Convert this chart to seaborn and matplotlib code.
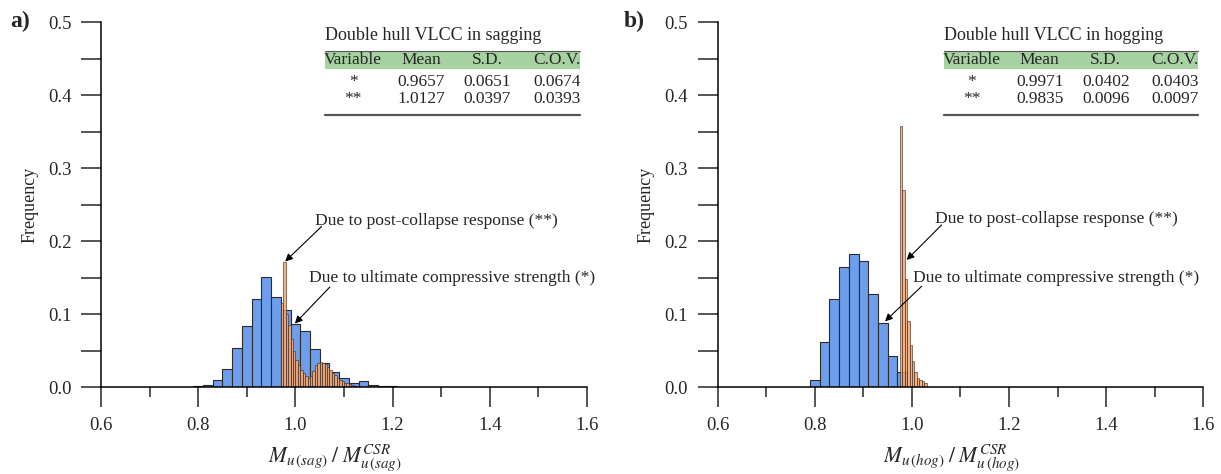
import numpy as np
import pandas as pd
import matplotlib
matplotlib.use('Agg')
import matplotlib.pyplot as plt
import seaborn as sns
from matplotlib.patches import Rectangle
from matplotlib.ticker import MultipleLocator

# ---- data (relative frequency per bin) ----
# sagging
sag_blue_start = 0.79
sag_blue_width = 0.02
sag_blue_freq = [0.001, 0.003, 0.010, 0.025, 0.053, 0.083, 0.121, 0.151, 0.124, 0.105,
                 0.086, 0.077, 0.052, 0.033, 0.020, 0.013, 0.006, 0.008, 0.003, 0.001, 0.001]
sag_orange_start = 0.970
sag_orange_width = 0.005
sag_orange_freq = [0.115, 0.171, 0.100, 0.085, 0.066, 0.050, 0.037, 0.030, 0.024, 0.019,
                   0.015, 0.013, 0.015, 0.022, 0.030, 0.033, 0.034, 0.033, 0.031, 0.027,
                   0.023, 0.019, 0.016, 0.013, 0.010, 0.008, 0.006, 0.005, 0.004, 0.003,
                   0.002, 0.001]
# hogging
hog_blue_start = 0.79
hog_blue_width = 0.02
hog_blue_freq = [0.009, 0.062, 0.121, 0.164, 0.182, 0.172, 0.128, 0.088, 0.043, 0.020]
hog_orange_start = 0.975
hog_orange_width = 0.005
hog_orange_freq = [0.357, 0.270, 0.148, 0.090, 0.057, 0.035, 0.021, 0.012, 0.010, 0.008, 0.005]

table_cols = ["Variable", "Mean", "S.D.", "C.O.V."]
sag_rows = [["*", "0.9657", "0.0651", "0.0674"], ["**", "1.0127", "0.0397", "0.0393"]]
hog_rows = [["*", "0.9971", "0.0402", "0.0403"], ["**", "0.9835", "0.0096", "0.0097"]]

sns.set_theme(style='ticks')
plt.rcParams['font.family'] = ['Liberation Serif', 'DejaVu Serif']
plt.rcParams['mathtext.fontset'] = 'stix'

BLUE = '#6D9EEB'
ORANGE = '#F3A46C'


def binned(start, width, freq):
    n = len(freq)
    centers = start + width * (np.arange(n) + 0.5)
    return pd.DataFrame({'x': centers, 'w': freq}), (start, start + n * width)


def panel(ax, blue, orange, title, rows, xlab, ann, tab_dx):
    dfb, rb = binned(*blue)
    dfo, ro = binned(*orange)
    sns.histplot(data=dfb, x='x', weights='w', binwidth=blue[1], binrange=rb, stat='count', ax=ax,
                 color=BLUE, alpha=1, edgecolor='#2b2b2b', linewidth=0.8)
    sns.histplot(data=dfo, x='x', weights='w', binwidth=orange[1], binrange=ro, stat='count', ax=ax,
                 color=ORANGE, alpha=0.85, edgecolor=(0.25, 0.15, 0.1, 0.7), linewidth=0.6)
    ax.set_xlim(0.6, 1.6)
    ax.set_ylim(0, 0.5)
    ax.xaxis.set_major_locator(MultipleLocator(0.2))
    ax.xaxis.set_minor_locator(MultipleLocator(0.1))
    ax.yaxis.set_major_locator(MultipleLocator(0.1))
    ax.yaxis.set_minor_locator(MultipleLocator(0.05))
    ax.xaxis.set_major_formatter(lambda v, p: f"{v:.1f}")
    ax.yaxis.set_major_formatter(lambda v, p: f"{v:.1f}")
    ax.tick_params(axis='x', which='major', length=14.4, width=1.1, pad=7, labelsize=13.5, direction='out')
    ax.tick_params(axis='x', which='minor', length=7.2, width=1.1, direction='out')
    ax.tick_params(axis='y', which='both', length=14.4, width=1.1, pad=7, labelsize=13.5, direction='out')
    for s in ['top', 'right']:
        ax.spines[s].set_visible(False)
    for s in ['left', 'bottom']:
        ax.spines[s].set_linewidth(1.1)
        ax.spines[s].set_color('black')
    ax.set_ylabel('Frequency', fontsize=13, labelpad=7)
    ax.set_xlabel(xlab, fontsize=15.5)
    ax.xaxis.set_label_coords(0.482, -0.152)

    # summary table
    x0, x1 = 0.461 + tab_dx, 0.985 + tab_dx
    cx = [0.519 + tab_dx, 0.659 + tab_dx, 0.795 + tab_dx, 0.938 + tab_dx]
    tr = ax.transAxes
    ax.text(x0, 0.962, title, transform=tr, fontsize=13, ha='left', va='center')
    ax.add_patch(Rectangle((x0, 0.872), x1 - x0, 0.050, transform=tr,
                           facecolor='#A6D1A0', edgecolor='none', clip_on=False))
    ax.plot([x0, x1], [0.922, 0.922], transform=tr, color='#555555', lw=0.8, clip_on=False)
    for c, t in zip(cx, table_cols):
        ax.text(c, 0.896, t, transform=tr, fontsize=12.5, ha='center', va='center')
    for r, yy in zip(rows, [0.835, 0.790]):
        for c, t in zip(cx, r):
            ax.text(c, yy, t, transform=tr, fontsize=12.5, ha='center', va='center')
    ax.plot([x0, x1], [0.746, 0.746], transform=tr, color='#555555', lw=1.6, clip_on=False)

    for txt, tpos, head, tail in ann:
        ax.text(tpos[0], tpos[1], txt, fontsize=12.6, ha='left', va='center')
        ax.annotate('', xy=head, xytext=tail,
                    arrowprops=dict(arrowstyle='-|>', color='black', lw=0.8,
                                    mutation_scale=11, shrinkA=0, shrinkB=0))


fig = plt.figure(figsize=(12.21, 4.74), dpi=100)
ax1 = fig.add_axes([0.0827, 0.1835, 0.398, 0.770])
ax2 = fig.add_axes([0.5878, 0.1835, 0.3977, 0.770])

panel(ax1, (sag_blue_start, sag_blue_width, sag_blue_freq),
      (sag_orange_start, sag_orange_width, sag_orange_freq),
      'Double hull VLCC in sagging', sag_rows,
      r'$M_{u\,(sag)}\;/\;M_{u\,(sag)}^{CSR}$',
      [('Due to post-collapse response (**)', (1.040, 0.227), (0.979, 0.172), (1.054, 0.220)),
       ('Due to ultimate compressive strength (*)', (1.029, 0.149), (0.999, 0.087), (1.071, 0.137))],
      0.0)
panel(ax2, (hog_blue_start, hog_blue_width, hog_blue_freq),
      (hog_orange_start, hog_orange_width, hog_orange_freq),
      'Double hull VLCC in hogging', hog_rows,
      r'$M_{u\,(hog)}\;/\;M_{u\,(hog)}^{CSR}$',
      [('Due to post-collapse response (**)', (1.0475, 0.230), (0.989, 0.174), (1.061, 0.222)),
       ('Due to ultimate compressive strength (*)', (1.002, 0.150), (0.9445, 0.090), (1.020, 0.138))],
      0.004)

fig.text(10 / 1221, 1 - 21 / 474, 'a)', fontsize=17, fontweight='bold', ha='left', va='center')
fig.text(624 / 1221, 1 - 21 / 474, 'b)', fontsize=17, fontweight='bold', ha='left', va='center')

fig.savefig('out.png', dpi=100)
